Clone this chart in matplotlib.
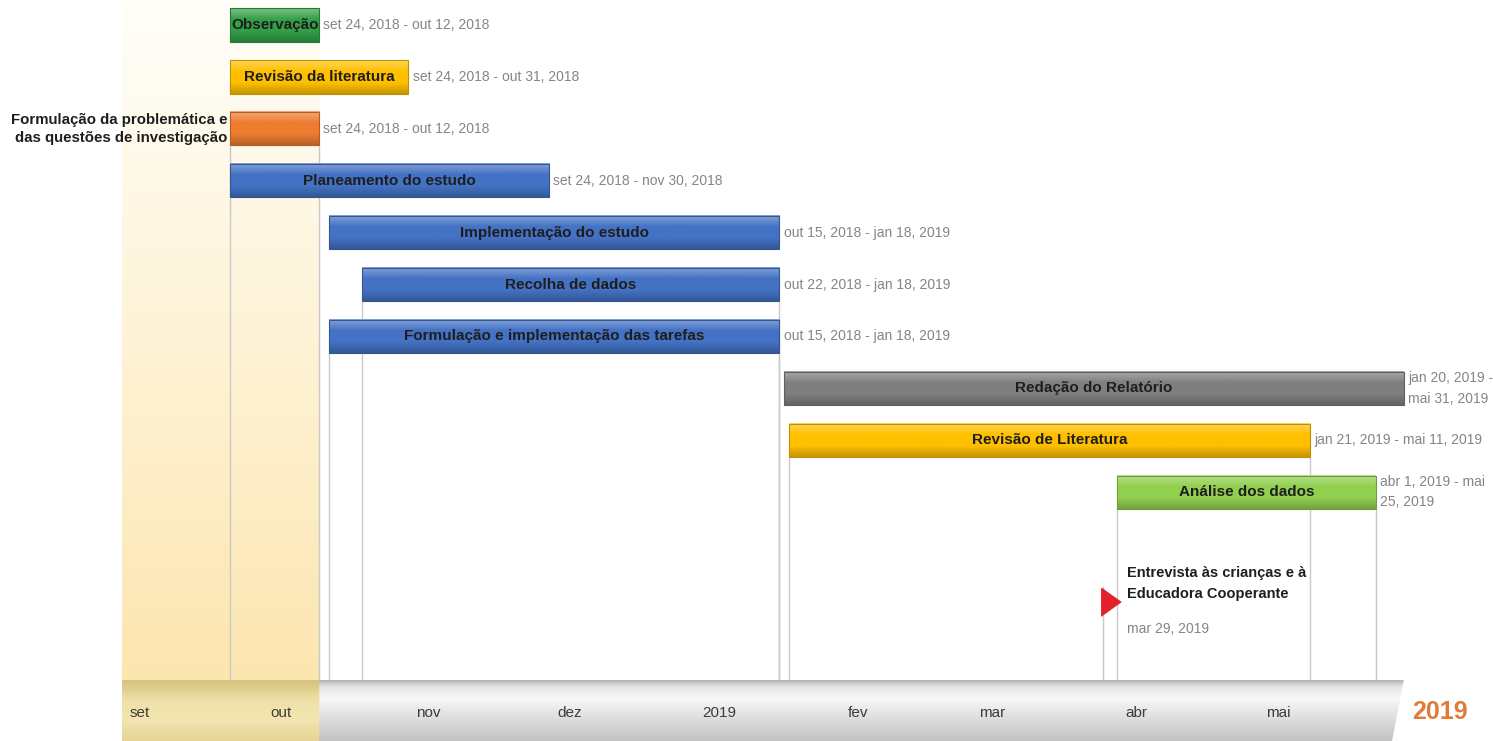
from datetime import date, timedelta
import textwrap

import matplotlib
matplotlib.use("Agg")
import matplotlib.pyplot as plt
import matplotlib.dates as mdates
import numpy as np
from matplotlib.colors import LinearSegmentedColormap, to_rgb
from matplotlib.patches import Rectangle, Polygon
from matplotlib.transforms import offset_copy

plt.rcParams["font.family"] = ["Liberation Sans", "DejaVu Sans"]

# --- data -------------------------------------------------------------------
tasks = [
    "Observação",
    "Revisão da literatura",
    "Formulação da problemática e das questões de investigação",
    "Planeamento do estudo",
    "Implementação do estudo",
    "Recolha de dados",
    "Formulação e implementação das tarefas",
    "Redação do Relatório",
    "Revisão de Literatura",
    "Análise dos dados",
]
starts = [
    date(2018, 9, 24), date(2018, 9, 24), date(2018, 9, 24), date(2018, 9, 24),
    date(2018, 10, 15), date(2018, 10, 22), date(2018, 10, 15),
    date(2019, 1, 20), date(2019, 1, 21), date(2019, 4, 1),
]
ends = [
    date(2018, 10, 12), date(2018, 10, 31), date(2018, 10, 12), date(2018, 11, 30),
    date(2019, 1, 18), date(2019, 1, 18), date(2019, 1, 18),
    date(2019, 5, 31), date(2019, 5, 11), date(2019, 5, 25),
]
colors = [
    "#33A047", "#FFC000", "#ED7D31", "#4472C4", "#4472C4", "#4472C4", "#4472C4",
    "#7F7F7F", "#FFC000", "#92D050",
]
label_side = ["in", "in", "left", "in", "in", "in", "in", "in", "in", "in"]
drop_lines = [False, False, True, False, False, True, True, False, True, True]

milestone_label = "Entrevista às crianças e à\nEducadora Cooperante"
milestone_date = date(2019, 3, 29)

month_starts = [
    date(2018, 9, 1), date(2018, 10, 1), date(2018, 11, 1), date(2018, 12, 1),
    date(2019, 1, 1), date(2019, 2, 1), date(2019, 3, 1), date(2019, 4, 1),
    date(2019, 5, 1),
]
month_labels = ["set", "out", "nov", "dez", "2019", "fev", "mar", "abr", "mai"]
month_abbr = ["jan", "fev", "mar", "abr", "mai", "jun",
              "jul", "ago", "set", "out", "nov", "dez"]

shade_start = date(2018, 9, 1)
shade_end = date(2018, 10, 12)
axis_end = date(2019, 5, 31)
year_label = "2019"

# --- layout -----------------------------------------------------------------
XMIN, XMAX = date(2018, 8, 6), date(2019, 6, 20)
YMIN, YMAX = -0.482, 12.62
BAR_H = 0.64
TEXT_DARK = "#1E1E1E"
DATE_GREY = "#858585"


def fmt(d):
    return f"{month_abbr[d.month - 1]} {d.day}, {d.year}"


def shade(color, amount):
    r, g, b = to_rgb(color)
    if amount >= 0:
        return (r + (1 - r) * amount, g + (1 - g) * amount, b + (1 - b) * amount)
    return (r * (1 + amount), g * (1 + amount), b * (1 + amount))


def num(d):
    return mdates.date2num(d)


grad = np.linspace(0, 1, 64).reshape(-1, 1)

fig = plt.figure(figsize=(14.93, 7.41), dpi=100)
ax = fig.add_axes([0, 61 / 741, 1, 680 / 741])
ax_t = fig.add_axes([0, 0, 1, 61 / 741], sharex=ax)

# pale yellow shaded period behind the chart
shade_cmap = LinearSegmentedColormap.from_list("shade", ["#FFFEF9", "#FEF3D6", "#FCE6B0"])
ax.imshow(grad, cmap=shade_cmap, extent=(num(shade_start), num(shade_end + timedelta(days=1)), YMAX, YMIN),
          aspect="auto", origin="upper", zorder=0, interpolation="bilinear")

rows = np.arange(len(tasks))
for i, (name, s, e, c) in enumerate(zip(tasks, starts, ends, colors)):
    y = rows[i]
    x0, x1 = num(s), num(e + timedelta(days=1))
    cmap = LinearSegmentedColormap.from_list(f"bar{i}", [shade(c, 0.35), c, c, shade(c, -0.22)])
    ax.imshow(grad, cmap=cmap, extent=(x0, x1, y + BAR_H / 2, y - BAR_H / 2),
              aspect="auto", origin="upper", zorder=3, interpolation="bilinear")
    ax.add_patch(Rectangle((x0, y - BAR_H / 2), x1 - x0, BAR_H, fill=False,
                           edgecolor=shade(c, -0.25), lw=0.8, zorder=4))
    if drop_lines[i]:
        ax.vlines([x0, x1], y + BAR_H / 2, YMAX, color="#C9C9C9", lw=1, zorder=2)

    if label_side[i] == "in":
        ax.text((x0 + x1) / 2, y, name, ha="center", va="center", fontsize=11,
                fontweight="bold", color=TEXT_DARK, zorder=5)
    else:
        ax.annotate(textwrap.fill(name, 28), xy=(x0, y), xytext=(-2, 0), textcoords="offset points",
                    ha="right", va="center", fontsize=10.8, fontweight="bold", color=TEXT_DARK,
                    linespacing=1.4, zorder=5)

    date_text = f"{fmt(s)} - {fmt(e)}"
    if e > date(2019, 5, 15):
        date_text = textwrap.fill(date_text, 17)
    ax.annotate(date_text, xy=(x1, y), xytext=(3, 0), textcoords="offset points",
                ha="left", va="center", fontsize=10, color=DATE_GREY, linespacing=1.6, zorder=5)

# milestone
ym = len(tasks) + 1
xm = num(milestone_date)
ax.vlines(xm, ym - 0.2, YMAX, color="#C9C9C9", lw=1, zorder=2)
tri = [(-0.7, -1), (-0.7, 1), (0.7, 0)]
ax.plot([xm], [ym], marker=tri, ms=20, color="#E3202B", ls="none", zorder=5,
        transform=offset_copy(ax.transData, fig, x=8, y=-6, units="dots"))
ax.annotate(milestone_label, xy=(xm, ym), xytext=(17, 9), textcoords="offset points",
            ha="left", va="center", fontsize=10.5, fontweight="bold", color=TEXT_DARK,
            linespacing=1.6, zorder=5)
ax.annotate(fmt(milestone_date), xy=(xm, ym), xytext=(17, -24), textcoords="offset points",
            ha="left", va="center", fontsize=10, color=DATE_GREY, zorder=5)

ax.set_xlim(num(XMIN), num(XMAX))
ax.set_ylim(YMAX, YMIN)
ax.axis("off")

# timeline band
yellow_cmap = LinearSegmentedColormap.from_list("yb", ["#D6C27E", "#EFE1A8", "#F2E5B0", "#E6D496"])
grey_cmap = LinearSegmentedColormap.from_list(
    "gb", [(0, "#B5B5B5"), (0.1, "#E4E4E4"), (0.3, "#F7F7F7"), (1, "#C2C2C2")])
band_split = num(shade_end + timedelta(days=1))
band_end = num(axis_end + timedelta(days=1))
ax_t.imshow(grad, cmap=yellow_cmap, extent=(num(shade_start), band_split, 0, 1),
            aspect="auto", origin="upper", zorder=1, interpolation="bilinear")
clip = Polygon([(band_split, 0), (band_split, 1), (band_end, 1), (band_end - 2.5, 0)],
               closed=True, transform=ax_t.transData, facecolor="none", edgecolor="none")
ax_t.add_patch(clip)
im = ax_t.imshow(grad, cmap=grey_cmap, extent=(band_split, band_end, 0, 1),
                 aspect="auto", origin="upper", zorder=1, interpolation="bilinear")
im.set_clip_path(clip)

for d, lbl in zip(month_starts, month_labels):
    ax_t.annotate(lbl, xy=(num(d), 0.46), xytext=(5.5, 0), textcoords="offset points",
                  ha="left", va="center", fontsize=11, color="#3C3C3C", zorder=3)

ax_t.set_xlim(num(XMIN), num(XMAX))
ax_t.set_ylim(0, 1)
ax_t.axis("off")

fig.text(1440 / 1493, 29 / 741, year_label, ha="center", va="center", fontsize=18,
         fontweight="bold", color="#E07B39")

fig.savefig("out.png", dpi=100)
